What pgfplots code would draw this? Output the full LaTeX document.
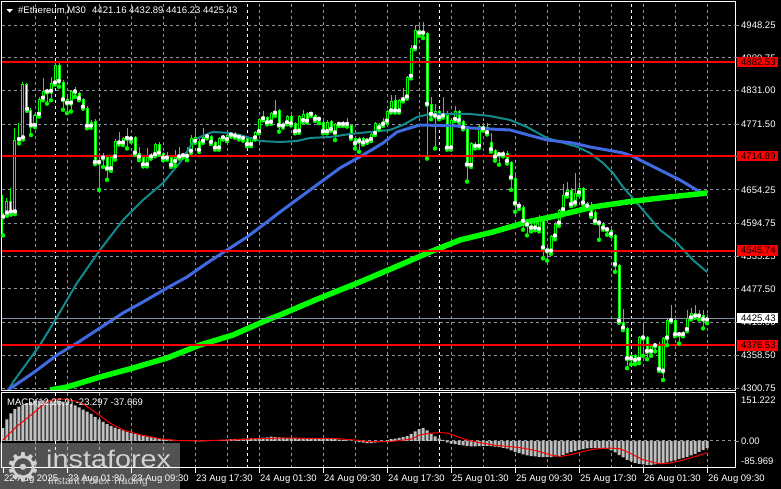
\documentclass[border=0pt]{standalone}
\usepackage{pgfplots}
\usepackage{pgfplotstable}
\pgfplotsset{compat=1.18}
\usepackage{fontspec}
\setmainfont{Liberation Sans}
\newfontfamily\symfont{DejaVu Sans}

\definecolor{mtlime}{HTML}{00FF00}
\definecolor{mtteal}{HTML}{128A8C}
\definecolor{mtblue}{HTML}{4169E1}
\definecolor{mtred}{HTML}{FF0000}
\definecolor{mtgrid}{HTML}{8C939E}
\definecolor{mtslate}{HTML}{8391A0}
\definecolor{mtsilver}{HTML}{C0C0C0}
\definecolor{logotext}{HTML}{D2D2D2}

% #Ethereum M30 candles: bar index, open, high, low, close
\pgfplotstableread{
i O H L C
-1 4605 4645 4573 4612
0 4612 4640 4608 4634
1 4634 4657 4610 4614
2 4614 4764 4611 4743
3 4743 4773 4737 4746
4 4746 4846 4744 4843
5 4843 4845 4795 4797
6 4797 4800 4752 4768
7 4768 4790 4766 4788
8 4788 4820 4785 4817
9 4817 4853 4814 4830
10 4830 4834 4808 4828
11 4829 4856 4814 4844
12 4844 4882 4842 4877
13 4877 4881 4838 4847
14 4847 4850 4797 4814
15 4808 4819 4791 4817
16 4808 4832 4794 4830
17 4830 4838 4820 4828
18 4827 4829 4814 4816
19 4816 4818 4799 4801
20 4801 4803 4764 4767
21 4767 4778 4765 4776
22 4777 4780 4700 4702
23 4702 4719 4654 4708
24 4710 4719 4695 4713
25 4712 4714 4672 4691
26 4691 4714 4688 4712
27 4712 4745 4708 4742
28 4742 4758 4735 4737
29 4737 4748 4734 4746
30 4746 4765 4728 4745
31 4744 4750 4740 4748
32 4748 4750 4717 4719
33 4719 4731 4707 4712
34 4713 4715 4696 4698
35 4698 4728 4696 4712
36 4712 4719 4710 4716
37 4716 4738 4714 4736
38 4736 4740 4717 4719
39 4719 4721 4707 4710
40 4710 4722 4708 4713
41 4712 4714 4695 4697
42 4704 4725 4697 4712
43 4712 4731 4710 4714
44 4714 4719 4712 4716
45 4716 4731 4707 4713
46 4722 4752 4720 4746
47 4740 4764 4738 4749
48 4742 4745 4722 4724
49 4740 4764 4738 4749
50 4748 4754 4746 4752
51 4750 4752 4736 4738
52 4740 4742 4726 4728
53 4728 4748 4726 4746
54 4746 4751 4744 4749
55 4743 4754 4741 4752
56 4752 4755 4749 4751
57 4751 4757 4747 4749
58 4749 4752 4744 4747
59 4747 4749 4742 4745
60 4746 4748 4732 4734
61 4734 4748 4732 4746
62 4746 4760 4744 4758
63 4757 4782 4755 4780
64 4780 4794 4778 4785
65 4784 4786 4771 4773
66 4774 4793 4772 4791
67 4790 4814 4786 4792
68 4797 4799 4758 4768
69 4767 4775 4765 4773
70 4773 4787 4771 4785
71 4785 4787 4769 4771
72 4773 4776 4755 4757
73 4758 4787 4756 4785
74 4777 4797 4775 4790
75 4791 4793 4774 4776
76 4788 4791 4786 4789
77 4788 4790 4777 4779
78 4779 4783 4773 4781
79 4776 4778 4755 4757
80 4757 4778 4755 4776
81 4777 4779 4759 4761
82 4755 4773 4743 4771
83 4770 4776 4768 4774
84 4773 4777 4768 4770
85 4770 4782 4767 4771
86 4770 4772 4745 4747
87 4747 4749 4728 4736
88 4740 4748 4722 4746
89 4747 4749 4735 4737
90 4740 4747 4738 4745
91 4743 4756 4741 4754
92 4754 4775 4752 4773
93 4771 4773 4762 4764
94 4770 4783 4768 4777
95 4776 4796 4774 4794
96 4794 4823 4792 4813
97 4814 4823 4792 4794
98 4794 4816 4792 4814
99 4814 4835 4812 4819
100 4819 4858 4817 4856
101 4856 4913 4853 4907
102 4907 4948 4905 4939
103 4939 4954 4929 4933
104 4933 4954 4925 4934
105 4934 4936 4710 4806
106 4808 4820 4780 4788
107 4785 4808 4728 4794
108 4794 4796 4780 4782
109 4785 4820 4783 4791
110 4788 4794 4726 4728
111 4728 4781 4726 4779
112 4779 4803 4777 4794
113 4794 4796 4775 4777
114 4777 4779 4762 4764
115 4764 4766 4669 4698
116 4697 4740 4695 4737
117 4736 4740 4728 4731
118 4731 4772 4729 4768
119 4768 4773 4760 4762
120 4766 4773 4753 4755
121 4740 4756 4722 4725
122 4725 4727 4706 4712
123 4716 4722 4699 4720
124 4720 4724 4714 4716
125 4719 4723 4701 4704
126 4703 4706 4654 4675
127 4675 4680 4615 4629
128 4629 4633 4620 4624
129 4624 4627 4583 4597
130 4597 4601 4573 4591
131 4591 4596 4580 4585
132 4585 4598 4582 4597
133 4583 4609 4580 4605
134 4603 4606 4532 4550
135 4550 4553 4528 4544
136 4544 4573 4540 4571
137 4571 4596 4566 4594
138 4594 4620 4590 4618
139 4618 4665 4615 4645
140 4645 4669 4642 4654
141 4654 4657 4625 4627
142 4630 4684 4628 4648
143 4648 4668 4645 4657
144 4657 4660 4628 4630
145 4630 4633 4620 4624
146 4624 4633 4606 4609
147 4615 4618 4595 4597
148 4597 4600 4565 4594
149 4594 4596 4583 4585
150 4585 4587 4574 4582
151 4582 4584 4572 4574
152 4574 4576 4508 4520
153 4520 4522 4417 4419
154 4419 4442 4404 4407
155 4407 4410 4336 4352
156 4352 4362 4343 4359
157 4359 4361 4343 4349
158 4351 4394 4345 4392
159 4392 4416 4358 4389
160 4392 4394 4352 4365
161 4365 4377 4358 4375
162 4375 4381 4366 4380
163 4380 4382 4331 4333
164 4330 4391 4315 4389
165 4389 4424 4377 4422
166 4422 4449 4419 4420
167 4422 4424 4393 4395
168 4395 4400 4380 4398
169 4395 4403 4393 4401
170 4404 4440 4402 4425
171 4425 4443 4423 4435
172 4435 4449 4426 4428
173 4428 4440 4423 4433
174 4431 4440 4407 4422
175 4421.16 4432.89 4416.23 4425.43
}\candles

\pgfplotstableread{
i P
0 4293.5
1.5 4311
8.25 4377.4
12.5 4427.3
17.5 4488
23.25 4546.9
29 4600.4
34 4636
39 4666.4
43.75 4707.4
46.5 4740
48.25 4748.4
51.5 4757.4
55.75 4755.6
58.25 4752
60.75 4746.7
63.25 4741.3
68.25 4739.5
72.5 4741.3
75.75 4746.7
80.75 4748.4
85.75 4753.8
90.75 4757.4
95.75 4761
99 4769.9
102.5 4784.1
105.75 4789.5
110.75 4789.5
115.75 4789.5
120.75 4785.9
125.75 4778.8
130 4766.3
135 4746.7
142.5 4731
145.75 4719.9
149 4702
151.5 4684.2
154 4659.2
155.75 4645
159 4618.2
163.25 4582.5
167.5 4559.3
171.5 4529
175 4507.6
}\maTeal

\pgfplotstableread{
i P
0.25 4297
6.5 4327.4
12.5 4359.5
17.5 4380.9
23.25 4407.7
29 4434.5
34 4454.1
40 4479.1
45 4498.7
50 4523.6
55 4546.9
60 4570
65 4596.8
68.25 4614.6
75.75 4653.9
83.25 4693.1
89 4716.3
94 4737.7
97.5 4757.4
100.75 4764.5
103.25 4769.9
112.5 4768.1
115.75 4764.5
125.75 4760.9
135 4743.1
141.5 4737.7
145.75 4730.6
150 4725.3
154 4719.9
156.25 4714.5
163.25 4689.6
168.25 4671.8
173.25 4650.3
175 4646.7
}\maBlue

\pgfplotstableread{
i P
10.75 4297
15 4302.4
23.25 4320.3
31.5 4336.3
40 4354.2
48.25 4377.4
56.5 4395.2
65 4422
68.25 4430.9
78.25 4461.2
88.25 4489.8
98.25 4520.1
105.75 4543.3
113.25 4564.7
121.5 4579
130 4596.8
138.25 4609.3
146.5 4623.6
155 4632.5
163.25 4639.6
175 4648.5
}\maGreen

\pgfplotstableread{
i M
-1 40
0 68
1 87
2 100
3 108
4 114
5 119
6 123
7 126
8 127
9 128
10 128
11 128
12 127
13 126
14 124
15 121
16 117
17 112
18 106
19 99
20 92
21 85
22 76
23 68
24 60
25 53
26 47
27 42
28 37
29 33
30 29
31 25
32 22
33 19
34 16
35 14
36 12
37 10
38 8
39 6
40 5
41 4
42 3
43 2
44 1
45 0.5
46 -1
47 -2
48 -2
49 -1.5
50 -1
51 0.5
52 1.5
53 2.5
54 3
55 4
56 5
57 6
58 6
59 7
60 7
61 8
62 8
63 9
64 10
65 11
66 13
67 12
68 11
69 10
70 9
71 9
72 9
73 9
74 9
75 8
76 8
77 8
78 7
79 7
80 6
81 6
82 5
83 4
84 3
85 1
86 0
87 -2
88 -4
89 -6
90 -7
91 -7
92 -6
93 -4
94 -2
95 1
96 5
97 7
98 9
99 12
100 15
101 22
102 30
103 37
104 40
105 33
106 22
107 14
108 8
109 3
110 -5
111 -9
112 -10.5
113 -12.6
114 -14.8
115 -15.8
116 -17.9
117 -17.9
118 -16.9
119 -16
120 -16
121 -17
122 -18
123 -20
124 -22
125 -25
126 -30.6
127 -35.8
128 -39
129 -43.2
130 -46.4
131 -48.5
132 -49.5
133 -50.6
134 -51.6
135 -51.6
136 -51.6
137 -49.5
138 -47.4
139 -44.3
140 -40
141 -35.8
142 -31.6
143 -28.5
144 -26.4
145 -24.2
146 -23.2
147 -23.2
148 -23.2
149 -24.2
150 -26.4
151 -30.6
152 -36.9
153 -45.3
154 -52.7
155 -60
156 -65.3
157 -69.6
158 -72.7
159 -74.8
160 -75.9
161 -75.9
162 -74.8
163 -73.8
164 -71.7
165 -68.5
166 -65.3
167 -62.2
168 -58
169 -54.8
170 -50.6
171 -46.4
172 -41.1
173 -34.8
174 -29.5
175 -23.297
}\macd

\pgfplotstableread{
i S
-1 3
2.4 45
6.6 87.5
9 114
10.75 127.5
12.4 131.8
14 131.8
16.6 127.5
19 117
22.4 87.5
25.75 55.9
29 34.8
33.25 19
38.25 6.3
42.4 1
48 0
56.6 3
63.25 7.4
69 8.4
81.6 7.4
86.6 3
90 -2
94 -3
96 -2
101 5
103.25 19
105.75 24
108.25 26
110.3 24
112.4 13.7
115.75 0
119 -7.4
122.4 -14.8
125.75 -17.9
129 -23.2
132.4 -31.6
135.75 -44.3
138.25 -49.5
140.75 -44.3
144 -33.7
147.4 -25.3
150.75 -23.2
153.25 -25.3
155.75 -39
159 -60
162.4 -70.6
164 -72.7
166.6 -68.5
170.75 -54.8
175 -37.669
}\signal

\tikzset{
  gridline/.style={mtgrid, line width=0.8pt, dash pattern=on 3pt off 3pt},
  dayline/.style={white, line width=0.8pt, dash pattern=on 3pt off 3pt},
  lbl/.style={anchor=west, inner sep=0pt, text=white},
}
\pgfplotsset{
  candle/.style={only marks, mark=none,
    error bars/.cd, y dir=plus, y explicit, error mark=none,
    error bar style={solid, line width=#1}},
}

\begin{document}
\begin{tikzpicture}[x=1pt, y=1pt, font=\fontsize{9.5}{11}\selectfont]
\useasboundingbox (0,0) rectangle (781,489);
\fill[black] (0,0) rectangle (781,489);

% ---- price window
\begin{axis}[at={(2pt,98pt)}, anchor=south west, width=733pt, height=389pt,
  scale only axis, xmin=-1.25, xmax=182, ymin=4295.31, ymax=4989.28,
  ticks=none, axis line style={white, line width=1pt}, axis on top]
\pgfplotsinvokeforeach{4948.25,4889.75,4831.00,4771.50,4713.00,4654.25,4594.75,4535.25,4477.50,4418.00,4358.50,4300.75}{
  \draw[gridline] (axis cs:-1.25,#1) -- (axis cs:182,#1);}
\pgfplotsinvokeforeach{7,15,...,175}{
  \draw[gridline] (axis cs:#1,4295.31) -- (axis cs:#1,4989.28);}
\pgfplotsinvokeforeach{12,60,108,156}{
  \draw[dayline] (axis cs:#1,4295.31) -- (axis cs:#1,4989.28);}

% wicks, bodies, body interiors (bull black, bear white)
\addplot[mtlime, candle=1pt] table[x=i, y=L,
  y error plus expr={\thisrow{H}-\thisrow{L}}]{\candles};
\addplot[mtlime, candle=3pt] table[x=i, y expr={min(\thisrow{O},\thisrow{C})},
  y error plus expr={max(abs(\thisrow{C}-\thisrow{O}),1.8)}]{\candles};
\addplot[black, candle=1pt] table[x=i, y expr={min(\thisrow{O},\thisrow{C})+1.784},
  y error plus expr={(\thisrow{C}<\thisrow{O}) ? 0 : max(\thisrow{C}-\thisrow{O}-3.57,0)}]{\candles};
\addplot[white, candle=1pt] table[x=i, y expr={min(\thisrow{O},\thisrow{C})+1.784},
  y error plus expr={(\thisrow{C}<\thisrow{O}) ? max(\thisrow{O}-\thisrow{C}-3.57,0) : 0}]{\candles};

\addplot[mtteal, line width=2pt, no marks] table[x=i, y=P]{\maTeal};
\addplot[mtblue, line width=3pt, no marks] table[x=i, y=P]{\maBlue};
\addplot[mtlime, line width=5.5pt, no marks] table[x=i, y=P]{\maGreen};

\addplot[mtred, line width=2pt, no marks] coordinates {(-1.25,4882.53) (182,4882.53)};
\addplot[mtred, line width=2pt, no marks] coordinates {(-1.25,4714.89) (182,4714.89)};
\addplot[mtred, line width=2pt, no marks] coordinates {(-1.25,4545.74) (182,4545.74)};
\addplot[mtred, line width=2pt, no marks] coordinates {(-1.25,4376.53) (182,4376.53)};
\addplot[mtslate, line width=1pt, no marks] coordinates {(-1.25,4425.43) (182,4425.43)};
\end{axis}

% ---- MACD window
\begin{axis}[at={(2pt,21pt)}, anchor=south west, width=733pt, height=75pt,
  scale only axis, xmin=-1.25, xmax=182, ymin=-85.969, ymax=151.222,
  ticks=none, axis line style={white, line width=1pt}, axis on top]
\draw[gridline] (axis cs:-1.25,0) -- (axis cs:182,0);
\pgfplotsinvokeforeach{7,15,...,175}{
  \draw[gridline] (axis cs:#1,-85.969) -- (axis cs:#1,151.222);}
\pgfplotsinvokeforeach{12,60,108,156}{
  \draw[dayline] (axis cs:#1,-85.969) -- (axis cs:#1,151.222);}
\addplot[ybar, bar width=3pt, fill=mtsilver, draw=none] table[x=i, y=M]{\macd};
\addplot[mtred, line width=1pt, no marks] table[x=i, y=S]{\signal};
\end{axis}

% ---- header texts
\fill[white] (6.5,479.8) -- (12.8,479.8) -- (9.65,476.3) -- cycle;
\node[anchor=base west, inner sep=0pt, text=white] at (18,475) {\#Ethereum,M30};
\node[anchor=base west, inner sep=0pt, text=white] at (92,475) {4421.16 4432.89 4416.23 4425.43};
\node[anchor=base west, inner sep=0pt, text=white] at (7,83) {MACD(12,26,9) -23.297 -37.669};

% ---- price scale
\foreach \yy/\tt in {464.0/4948.25, 431.2/4889.75, 398.3/4831.00, 364.9/4771.50,
  332.1/4713.00, 299.2/4654.25, 265.8/4594.75, 232.5/4535.25, 200.1/4477.50,
  166.8/4418.00, 133.4/4358.50, 101.05/4300.75}{
  \draw[mtgrid, line width=0.8pt] (735,\yy) -- (739,\yy);
  \node[lbl] at (741,\yy) {\tt};
}
\foreach \yy/\tt in {427.2/4882.53, 333.2/4714.89, 238.4/4545.74, 143.5/4376.53}{
  \fill[mtred] (737,\yy-5.2) rectangle (778,\yy+5.2);
  \node[lbl, text=black] at (741,\yy) {\tt};
}
\fill[white] (737,170.9-5.2) rectangle (778,170.9+5.2);
\node[lbl, text=black] at (741,170.9) {4425.43};

% ---- MACD scale
\node[lbl] at (741,88.7) {151.222};
\node[lbl] at (741,47.5) {0.00};
\node[lbl] at (741,28) {-85.969};
\draw[mtgrid, line width=0.8pt] (735,47.5) -- (739,47.5);

% ---- time scale
\foreach \xx/\tt in {3/22 Aug 2025, 67/23 Aug 01:30, 131/23 Aug 09:30, 195/23 Aug 17:30,
  259/24 Aug 01:30, 323/24 Aug 09:30, 387/24 Aug 17:30, 451/25 Aug 01:30,
  515/25 Aug 09:30, 579/25 Aug 17:30, 643/26 Aug 01:30, 707/26 Aug 09:30}{
  \draw[white, line width=0.8pt] (\xx,21) -- (\xx,16);
  \node[anchor=base west, inner sep=0pt, text=white] at (\xx+1,7.5) {\tt};
}

% ---- watermark
\fill[white, opacity=0.32] (0,0) rectangle (180,46);
\node[text=logotext, inner sep=0pt, font=\symfont\fontsize{40}{40}\selectfont] at (23.5,22) {⚙};
\node[anchor=base west, inner sep=0pt, text=logotext] at (46,21)
  {\scalebox{1.2}[1]{\fontsize{24}{24}\selectfont instaforex}};
\node[anchor=base west, inner sep=0pt, text=logotext, font=\fontsize{10.5}{12}\selectfont] at (48,4)
  {Instant Forex Trading};
\end{tikzpicture}
\end{document}
